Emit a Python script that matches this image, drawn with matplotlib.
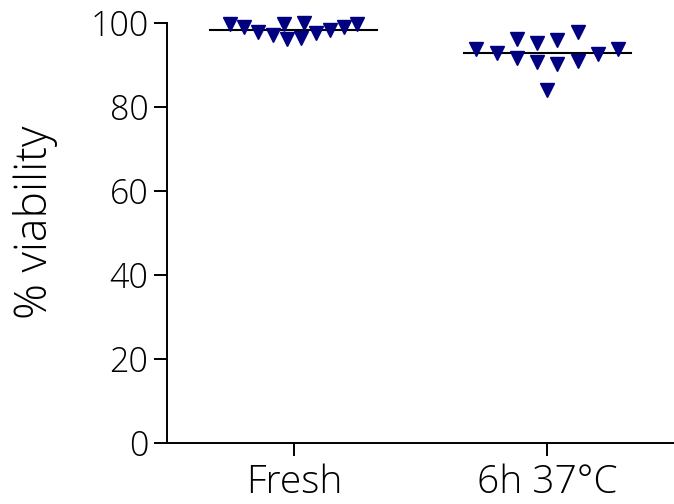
import numpy as np
import matplotlib
matplotlib.use("Agg")
import matplotlib.pyplot as plt

plt.rcParams["font.family"] = ["Open Sans", "DejaVu Sans"]
plt.rcParams["font.weight"] = "light"
plt.rcParams["axes.labelweight"] = "light"

# Groups and measured viability (%)
groups = ["Fresh", "6h 37°C"]
fresh = [99.8, 99.1, 98.0, 97.2, 99.8, 96.3, 96.5, 100.0, 97.6, 98.4, 99.2, 99.8]
warm = [93.8, 92.9, 96.3, 91.8, 95.3, 90.7, 84.0, 96.0, 90.3, 97.8, 91.0, 92.7, 93.8]

# horizontal scatter offsets (jitter) of each point
fresh_jit = [-0.252, -0.197, -0.141, -0.084, -0.039, -0.027, 0.030, 0.040, 0.086, 0.141, 0.196, 0.251]
warm_jit = [-0.28, -0.20, -0.119, -0.119, -0.039, -0.039, 0.0, 0.04, 0.04, 0.122, 0.122, 0.20, 0.28]

fig = plt.figure(figsize=(6.74, 5.04), dpi=100)
ax = fig.add_axes([0.248, 0.121, 0.752, 0.833])

for i, (vals, jit) in enumerate([(fresh, fresh_jit), (warm, warm_jit)]):
    xs = i + np.array(jit)
    ax.plot(xs, vals, linestyle="none", marker="v", markersize=10,
            color="#000080", clip_on=False, zorder=3)
    m = np.mean(vals)
    ax.plot([i - 0.33, i + 0.33], [m, m], color="black", lw=1.5, zorder=2)

ax.set_xlim(-0.5, 1.5)
ax.set_ylim(0, 100)
ax.set_yticks([0, 20, 40, 60, 80, 100])
ax.set_xticks([0, 1])
ax.set_xticklabels(groups)
ax.set_ylabel("% viability", fontsize=32, fontweight="light")
ax.yaxis.set_label_coords(-0.215, 0.525)

for s in ["top", "right"]:
    ax.spines[s].set_visible(False)
for s in ["left", "bottom"]:
    ax.spines[s].set_linewidth(1.4)
ax.tick_params(axis="both", width=1.4, length=9.5)
ax.tick_params(axis="y", labelsize=24.5, pad=4)
ax.tick_params(axis="x", labelsize=28, pad=5)

fig.savefig("out.png", dpi=100)
